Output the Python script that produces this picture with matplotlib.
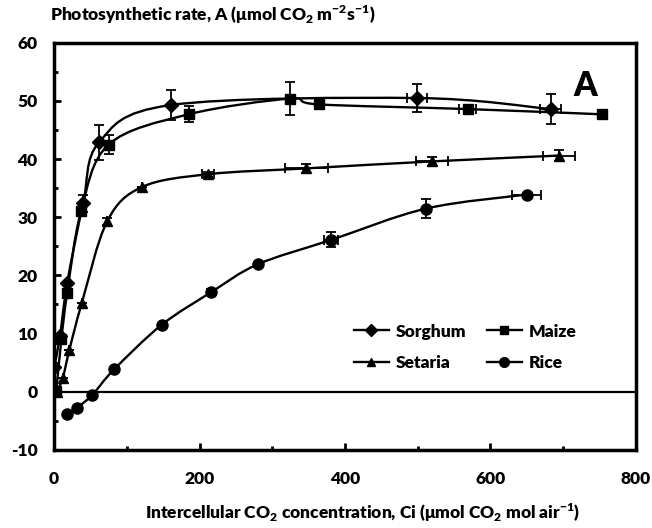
import matplotlib.pyplot as plt
from matplotlib.path import Path
from matplotlib.patches import PathPatch
from matplotlib.lines import Line2D
from matplotlib.ticker import MultipleLocator
import numpy as np

plt.rcParams['font.family'] = ['Lato', 'DejaVu Sans']
plt.rcParams['font.weight'] = 'heavy'
plt.rcParams['mathtext.fontset'] = 'custom'
plt.rcParams['mathtext.rm'] = 'Lato:heavy'
plt.rcParams['mathtext.bf'] = 'Lato:heavy'
plt.rcParams['axes.unicode_minus'] = False

# Sorghum
sorghum_ci = [0, 8, 18, 40, 62, 161, 499, 683]
sorghum_a = [4.2, 9.5, 18.7, 32.4, 42.9, 49.3, 50.5, 48.6]
sorghum_yerr = [0, 0, 0, 1.5, 3.0, 2.5, 2.4, 2.6]
sorghum_xerr = [0, 0, 0, 0, 0, 0, 14, 14]

# Maize
maize_ci = [3, 10, 18, 37, 75, 185, 324, 364, 569, 753]
maize_a = [0.2, 9.0, 17.0, 31.0, 42.5, 47.7, 50.4, 49.4, 48.6, 47.7]
maize_yerr = [0, 0, 0, 0, 1.6, 1.4, 2.8, 0.6, 0, 0]
maize_xerr = [0, 0, 0, 0, 0, 0, 0, 0, 12, 0]

# Setaria
setaria_ci = [4, 12, 21, 38, 73, 121, 212, 347, 520, 694]
setaria_a = [0.0, 2.4, 7.2, 15.2, 29.3, 35.2, 37.4, 38.4, 39.6, 40.6]
setaria_yerr = [0, 0, 0, 0, 0.6, 0, 0.4, 0.8, 0.8, 0.9]
setaria_xerr = [0, 0, 0, 0, 0, 0, 8, 30, 22, 22]

# Rice
rice_ci = [18, 31, 52, 83, 148, 216, 280, 381, 512, 650]
rice_a = [-3.8, -2.8, -0.6, 3.9, 11.5, 17.1, 21.9, 26.1, 31.5, 33.9]
rice_yerr = [0, 0, 0, 0, 0, 0.5, 0, 1.3, 1.6, 0]
rice_xerr = [0, 0, 0, 0, 0, 0, 0, 10, 0, 20]


def smooth_path(x, y):
    # Catmull-Rom style bezier, like a spreadsheet "smoothed line"
    p = np.column_stack([x, y]).astype(float)
    verts = [p[0]]
    codes = [Path.MOVETO]
    n = len(p)
    for i in range(n - 1):
        p0 = p[i - 1] if i > 0 else p[i]
        p3 = p[i + 2] if i + 2 < n else p[i + 1]
        c1 = p[i] + (p[i + 1] - p0) / 6.0
        c2 = p[i + 1] - (p3 - p[i]) / 6.0
        verts += [c1, c2, p[i + 1]]
        codes += [Path.CURVE4] * 3
    return Path(verts, codes)


fig = plt.figure(figsize=(6.52, 5.28), dpi=100)
ax = fig.add_axes([0.083, 0.148, 0.892, 0.771])

series = [
    (sorghum_ci, sorghum_a, sorghum_xerr, sorghum_yerr, 'D', 7, 'Sorghum'),
    (maize_ci, maize_a, maize_xerr, maize_yerr, 's', 7, 'Maize'),
    (setaria_ci, setaria_a, setaria_xerr, setaria_yerr, '^', 7, 'Setaria'),
    (rice_ci, rice_a, rice_xerr, rice_yerr, 'o', 8, 'Rice'),
]

ax.axhline(0, color='black', linewidth=1.6, zorder=1)

handles = {}
for ci, a, xe, ye, mk, ms, name in series:
    ax.add_patch(PathPatch(smooth_path(ci, a), facecolor='none',
                           edgecolor='black', linewidth=1.7, zorder=2))
    ax.errorbar(ci, a, xerr=np.array(xe, float), yerr=np.array(ye, float),
                fmt='none', ecolor='black', elinewidth=1.3, capsize=3.5,
                capthick=1.3, zorder=3)
    ax.plot(ci, a, linestyle='none', marker=mk, markersize=ms,
            color='black', zorder=4)
    handles[name] = Line2D([], [], color='black', linewidth=1.7, marker=mk,
                           markersize=ms - 1, label=name)

ax.set_xlim(0, 800)
ax.set_ylim(-10, 60)
ax.xaxis.set_major_locator(MultipleLocator(200))
ax.xaxis.set_minor_locator(MultipleLocator(100))
ax.yaxis.set_major_locator(MultipleLocator(10))
ax.yaxis.set_minor_locator(MultipleLocator(5))
ax.tick_params(which='major', direction='in', length=5, width=2,
               labelsize=12.5)
ax.tick_params(axis='x', which='major', pad=15)
ax.tick_params(axis='y', which='major', pad=12)
ax.tick_params(which='minor', direction='in', length=3, width=2)
for lab in ax.get_xticklabels() + ax.get_yticklabels():
    lab.set_fontweight('heavy')
for s in ax.spines.values():
    s.set_linewidth(2.5)

ax.text(0.914, 0.895, 'A', transform=ax.transAxes, fontsize=24,
        fontweight='heavy', ha='center', va='center')

fig.text(0.077, 0.972, r'Photosynthetic rate, A (μmol CO$_\mathbf{2}$ m$^\mathbf{-2}$s$^\mathbf{-1}$)',
         fontsize=12.5, fontweight='heavy', ha='left', va='center')
fig.text(0.556, 0.028, r'Intercellular CO$_\mathbf{2}$ concentration, Ci (μmol CO$_\mathbf{2}$ mol air$^\mathbf{-1}$)',
         fontsize=12.5, fontweight='heavy', ha='center', va='center')

order = ['Sorghum', 'Setaria', 'Maize', 'Rice']
leg = ax.legend(handles=[handles[k] for k in order], ncol=2, frameon=False,
                loc='lower right', bbox_to_anchor=(0.925, 0.155), fontsize=12.5,
                handlelength=2.0, columnspacing=1.2, labelspacing=0.9,
                handletextpad=0.4)
for t in leg.get_texts():
    t.set_fontweight('heavy')

fig.savefig('out.png', dpi=100)
